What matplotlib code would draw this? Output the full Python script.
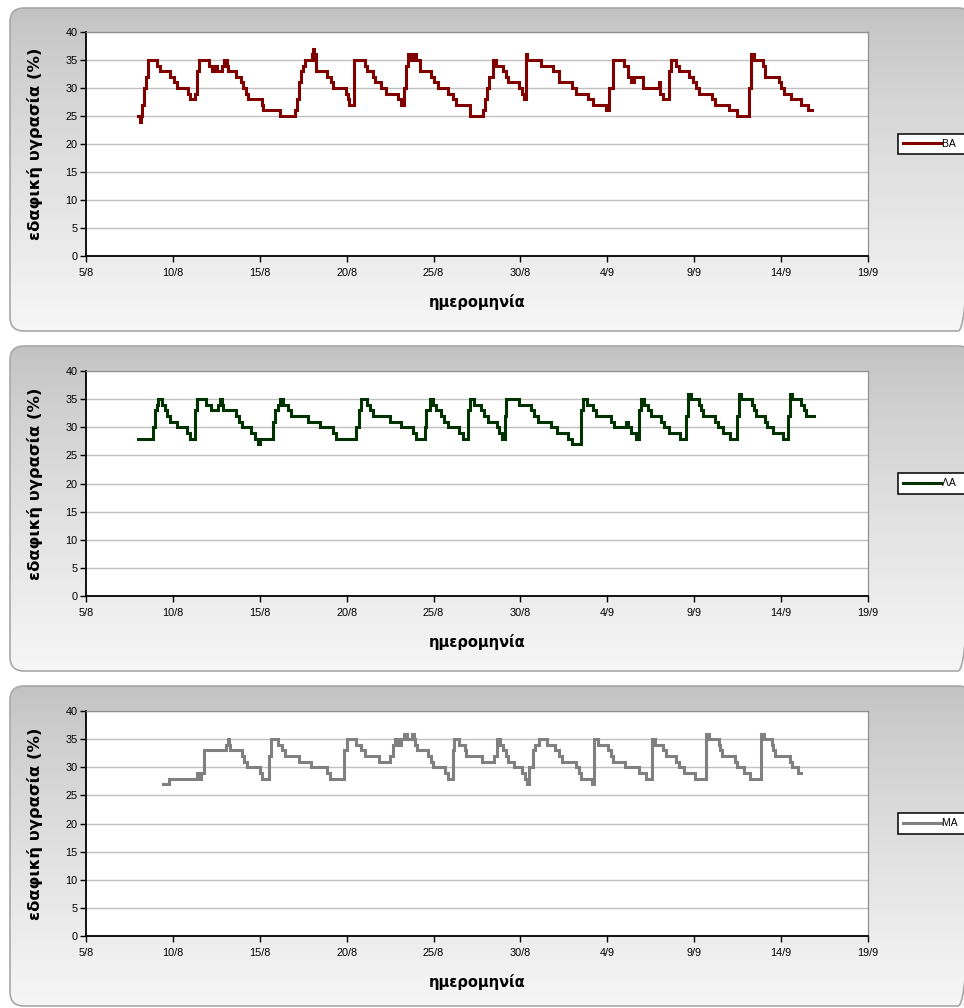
import matplotlib
matplotlib.use('Agg')
import matplotlib.pyplot as plt
import numpy as np
from matplotlib.patches import FancyBboxPatch

# ---------------- data ----------------
tick_labels = ['5/8', '10/8', '15/8', '20/8', '25/8', '30/8', '4/9', '9/9', '14/9', '19/9']
y_ticks = [0, 5, 10, 15, 20, 25, 30, 35, 40]
series_names = ['ΒΑ', 'ΛΑ', 'ΜΑ']

# days since 5/8 where the reading changes, and the new reading (%)
ba_day = [3.00, 3.10, 3.18, 3.25, 3.35, 3.45, 3.58, 4.10, 4.25, 4.85, 5.05, 5.21, 5.85, 6.00,
          6.30, 6.40, 6.50, 7.10, 7.25, 7.45, 7.55, 7.85, 7.93, 8.10, 8.20, 8.66, 8.90, 9.05,
          9.20, 9.33, 10.10, 10.19, 11.15, 12.01, 12.15, 12.25, 12.35, 12.50, 12.59, 13.00,
          13.07, 13.12, 13.18, 13.22, 13.85, 14.10, 14.22, 14.95, 15.05, 15.13, 15.40, 15.45,
          16.03, 16.15, 16.50, 16.65, 17.00, 17.28, 17.95, 18.14, 18.30, 18.40, 18.52, 18.70,
          18.80, 19.00, 19.20, 19.85, 20.05, 20.25, 20.85, 21.10, 21.30, 22.07, 22.87, 22.95,
          23.05, 23.20, 23.41, 23.60, 23.98, 24.15, 24.27, 24.94, 25.10, 25.20, 25.33, 25.40,
          26.19, 26.86, 27.20, 27.95, 28.20, 28.87, 29.16, 29.92, 30.11, 30.31, 30.98, 31.17,
          31.36, 31.55, 32.03, 32.95, 33.05, 33.20, 33.56, 33.65, 33.95, 34.10, 34.71, 34.95,
          35.10, 35.29, 36.05, 36.20, 37.00, 37.49, 38.16, 38.25, 38.45, 38.93, 39.10, 39.89,
          40.00, 40.15, 40.55, 41.15, 41.55, 41.76]
ba_val = [25, 24, 25, 27, 30, 32, 35, 34, 33, 32, 31, 30, 29, 28,
          29, 33, 35, 34, 33, 34, 33, 34, 35, 34, 33, 32, 31, 30,
          29, 28, 27, 26, 25, 26, 28, 31, 33, 34, 35, 36,
          37, 35, 36, 33, 32, 31, 30, 29, 28, 27, 33, 35,
          34, 33, 32, 31, 30, 29, 28, 27, 30, 34, 36, 35,
          36, 35, 33, 32, 31, 30, 29, 28, 27, 25, 26, 28,
          30, 32, 35, 34, 33, 32, 31, 30, 29, 28, 36, 35,
          34, 33, 31, 30, 29, 28, 27, 26, 30, 35, 34, 32,
          31, 32, 30, 31, 29, 28, 33, 35, 34, 33, 32, 31,
          30, 29, 28, 27, 26, 25, 30, 36, 35, 34, 32, 31,
          30, 29, 28, 27, 26, 26]

la_day = [3.01, 3.83, 3.95, 4.06, 4.15, 4.35, 4.55, 4.65, 4.83, 5.21, 5.79, 5.98, 6.30, 6.40,
          6.93, 7.22, 7.60, 7.70, 7.80, 7.89, 8.66, 8.80, 8.95, 9.52, 9.71, 9.90, 10.00, 10.77,
          10.90, 11.05, 11.15, 11.34, 11.60, 11.82, 12.78, 13.45, 14.21, 14.40, 15.56, 15.70,
          15.84, 16.17, 16.35, 16.51, 17.47, 18.14, 18.81, 19.00, 19.48, 19.58, 19.77, 19.96,
          20.15, 20.45, 20.60, 20.82, 21.49, 21.69, 22.00, 22.07, 22.35, 22.75, 22.90, 23.12,
          23.65, 23.79, 23.95, 24.10, 24.18, 24.94, 25.61, 25.80, 26.00, 26.76, 27.10, 27.75,
          27.95, 28.50, 28.58, 28.85, 29.15, 29.35, 30.21, 30.40, 31.10, 31.20, 31.36, 31.65,
          31.84, 31.95, 32.12, 32.35, 32.51, 33.08, 33.27, 33.56, 34.20, 34.55, 34.65, 34.80,
          35.25, 35.40, 35.48, 36.20, 36.34, 36.65, 37.05, 37.45, 37.55, 37.70, 38.30, 38.45,
          38.54, 39.10, 39.21, 39.55, 40.10, 40.40, 40.50, 40.65, 41.13, 41.30, 41.42, 41.90]
la_val = [28, 30, 33, 34, 35, 34, 33, 32, 31, 30, 29, 28, 33, 35,
          34, 33, 34, 35, 34, 33, 32, 31, 30, 29, 28, 27, 28, 31,
          33, 34, 35, 34, 33, 32, 31, 30, 29, 28, 30, 33,
          35, 34, 33, 32, 31, 30, 29, 28, 30, 33, 35, 34,
          33, 32, 31, 30, 29, 28, 33, 35, 34, 33, 32, 31,
          30, 29, 28, 32, 35, 34, 33, 32, 31, 30, 29, 28,
          27, 33, 35, 34, 33, 32, 31, 30, 31, 30, 29, 28,
          33, 35, 34, 33, 32, 31, 30, 29, 28, 32, 36, 35,
          34, 33, 32, 31, 30, 29, 28, 32, 36, 35, 34, 33,
          32, 31, 30, 29, 28, 32, 36, 35, 34, 33, 32, 32]

ma_day = [4.44, 4.79, 6.40, 6.55, 6.62, 6.78, 8.08, 8.15, 8.22, 8.30, 9.00, 9.10, 9.25, 10.00,
          10.15, 10.54, 10.62, 11.05, 11.30, 11.44, 12.25, 12.92, 13.85, 14.05, 14.85, 15.00,
          15.56, 15.85, 16.03, 16.85, 17.50, 17.65, 17.80, 17.95, 18.10, 18.30, 18.45, 18.75,
          18.85, 18.95, 19.05, 19.70, 19.85, 19.96, 20.65, 20.85, 21.10, 21.20, 21.45, 21.80,
          21.88, 22.80, 23.50, 23.65, 23.85, 24.00, 24.15, 24.30, 24.65, 25.10, 25.25, 25.40,
          25.50, 25.70, 25.85, 26.05, 26.55, 27.00, 27.20, 27.40, 28.20, 28.35, 28.49, 29.10,
          29.25, 29.44, 30.05, 30.20, 30.30, 31.00, 31.80, 32.25, 32.55, 32.75, 33.20, 33.35,
          33.98, 34.15, 34.40, 35.05, 35.70, 35.85, 36.40, 36.50, 36.60, 37.35, 37.45, 37.85,
          38.20, 38.85, 39.00, 39.45, 39.55, 39.65, 40.50, 40.60, 41.00, 41.13]
ma_val = [27, 28, 29, 28, 29, 33, 34, 35, 34, 33, 32, 31, 30, 29,
          28, 32, 35, 34, 33, 32, 31, 30, 29, 28, 33, 35,
          34, 33, 32, 31, 32, 34, 35, 34, 35, 36, 35, 36,
          35, 34, 33, 32, 31, 30, 29, 28, 33, 35, 34, 33,
          32, 31, 32, 35, 34, 33, 32, 31, 30, 29, 28, 27,
          30, 33, 34, 35, 34, 33, 32, 31, 30, 29, 28, 27,
          35, 34, 33, 32, 31, 30, 29, 28, 35, 34, 33, 32,
          31, 30, 29, 28, 36, 35, 34, 33, 32, 31, 30, 29,
          28, 36, 35, 34, 33, 32, 31, 30, 29, 29]

series_days = [ba_day, la_day, ma_day]
series_vals = [ba_val, la_val, ma_val]
series_colors = ['#800000', '#003300', '#808080']

# ---------------- layout (pixels) ----------------
W, H = 964, 1008
plt.rcParams['font.family'] = ['Liberation Sans', 'DejaVu Sans']
fig = plt.figure(figsize=(W / 100, H / 100), dpi=100)
fig.patch.set_facecolor('white')

panels = [(10, 8, 962, 323), (10, 346, 962, 325), (10, 686, 962, 320)]
plot_top = [32, 371, 711]
plot_bot = [256, 596, 936]
px_left, px_right = 86, 868

bg = fig.add_axes([0, 0, 1, 1], zorder=0)
bg.set_xlim(0, W)
bg.set_ylim(H, 0)
bg.axis('off')

c_top = np.array([0.76, 0.76, 0.76])
c_bot = np.array([0.965, 0.965, 0.965])
t = np.linspace(0, 1, 256) ** 0.8
grad = (c_top[None, :] * (1 - t[:, None]) + c_bot[None, :] * t[:, None])[:, None, :]

for (x0, y0, w, h) in panels:
    patch = FancyBboxPatch((x0, y0), w, h, boxstyle="round,pad=0,rounding_size=14",
                           facecolor='none', edgecolor='#a8a8a8', linewidth=1.2, zorder=2)
    bg.add_patch(patch)
    im = bg.imshow(grad, extent=[x0, x0 + w, y0 + h, y0], aspect='auto', origin='upper', zorder=1)
    im.set_clip_path(patch)

label_font = ['DejaVu Sans']
for i in range(3):
    left = px_left / W
    width = (px_right - px_left) / W
    bottom = 1 - plot_bot[i] / H
    hpx = plot_bot[i] - plot_top[i]
    height = hpx / H
    ax = fig.add_axes([left, bottom, width, height], zorder=2)
    ax.set_facecolor('white')
    ax.plot(series_days[i], series_vals[i], drawstyle='steps-post', color=series_colors[i],
            linewidth=2.2, label=series_names[i] + '  ', solid_joinstyle='miter')
    ax.set_xlim(0, 5 * (len(tick_labels) - 1))
    ax.set_ylim(0, 40)
    ax.set_xticks([5 * k for k in range(len(tick_labels))])
    ax.set_xticklabels(tick_labels)
    ax.set_yticks(y_ticks)
    ax.tick_params(axis='both', labelsize=7.8, length=4, width=1, direction='out', color='black')
    ax.tick_params(axis='y', pad=2)
    ax.tick_params(axis='x', pad=5)
    ax.yaxis.grid(True, color='#c0c0c0', linewidth=1)
    ax.set_axisbelow(True)
    for s in ['top', 'right']:
        ax.spines[s].set_color('#909090')
        ax.spines[s].set_linewidth(0.9)
    for s in ['left', 'bottom']:
        ax.spines[s].set_color('black')
        ax.spines[s].set_linewidth(1.3)
    ax.set_ylabel('εδαφική υγρασία (%)', fontsize=11.8, fontweight='bold', family=label_font)
    ax.yaxis.set_label_coords((43 - px_left) / (px_right - px_left), 0.5)
    ax.set_xlabel('ημερομηνία', fontsize=10.5, fontweight='bold', family=label_font)
    ax.xaxis.set_label_coords(0.5, -38 / hpx)
    cy = 1 - (plot_top[i] + plot_bot[i]) / 2 / H
    leg = ax.legend(loc='center left', bbox_to_anchor=(898 / W, cy), bbox_transform=fig.transFigure,
                    fontsize=7.5, frameon=True, fancybox=False, handlelength=3.6,
                    borderpad=0.5, handletextpad=0.15, borderaxespad=0)
    leg.get_frame().set_edgecolor('black')
    leg.get_frame().set_linewidth(1.1)
    leg.get_frame().set_facecolor('white')
    leg.get_frame().set_alpha(1)

fig.savefig('out.png', dpi=100)
